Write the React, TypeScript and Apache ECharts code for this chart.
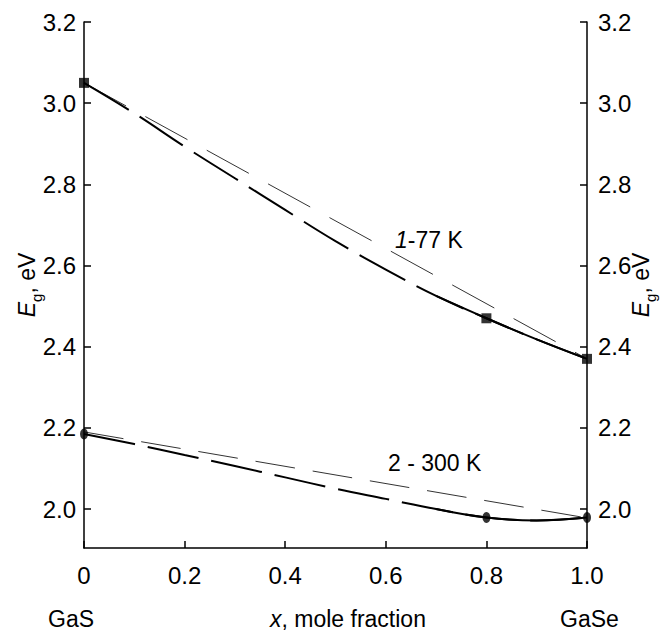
import React, { useEffect, useRef } from "react";
import * as echarts from "echarts";

const xs = [0, 0.1, 0.2, 0.3, 0.4, 0.5, 0.6, 0.7, 0.8, 0.9, 1.0];
const curve1 = [3.05, 2.975, 2.893, 2.815, 2.737, 2.66, 2.59, 2.525, 2.47, 2.418, 2.37];
const curve2 = [2.185, 2.16, 2.133, 2.106, 2.078, 2.05, 2.025, 2.0, 1.979, 1.972, 1.979];
const linear1 = [[0, 3.05], [1, 2.37]];
const linear2 = [[0, 2.19], [1, 1.978]];
const points1 = [[0, 3.05], [0.8, 2.47], [1, 2.37]];
const points2 = [[0, 2.185], [0.8, 1.979], [1, 1.979]];
const yTicks = [2.0, 2.2, 2.4, 2.6, 2.8, 3.0, 3.2];
const xTicks = [0, 0.2, 0.4, 0.6, 0.8, 1.0];

const FONT = "'Liberation Sans Narrow', 'Liberation Sans', Arial, sans-serif";

export default function App() {
  const ref = useRef<HTMLDivElement>(null);
  useEffect(() => {
    if (!ref.current) return;
    const chart = echarts.init(ref.current, null, { renderer: "svg" });
    const pairs = (vals: number[]) => xs.map((x, i) => [x, vals[i]]);
    const solidStart = 7;
    const yAxisBase = (pos: "left" | "right") => ({
      type: "value",
      position: pos,
      min: 1.904,
      max: 3.2,
      axisLine: { show: true, lineStyle: { color: "#000", width: 1.5 } },
      axisTick: { show: true, inside: true, length: 7, customValues: yTicks, lineStyle: { color: "#000", width: 1.5 } },
      axisLabel: {
        customValues: yTicks,
        formatter: (v: number) => v.toFixed(1),
        color: "#000",
        fontSize: 24,
        fontFamily: FONT,
        margin: pos === "left" ? 8 : 11,
      },
      splitLine: { show: false },
      name: "{e|E}{g|g}{n|, eV}",
      nameLocation: "middle",
      nameRotate: 90,
      nameMoveOverlap: false,
      nameGap: pos === "left" ? 46 : 37,
      nameTextStyle: {
        rich: {
          e: { fontSize: 23, fontStyle: "italic", fontFamily: FONT, color: "#000", lineHeight: 28, verticalAlign: "bottom" },
          g: { fontSize: 15, fontFamily: FONT, color: "#000", lineHeight: 28, verticalAlign: "bottom", padding: [0, 0, -6, 0] },
          n: { fontSize: 23, fontFamily: FONT, color: "#000", lineHeight: 28, verticalAlign: "bottom" },
        },
      },
    });
    const option: any = {
      animation: false,
      grid: { left: 84, right: 74, top: 22, bottom: 84, outerBoundsMode: "none", containLabel: false },
      xAxis: {
        type: "value",
        min: 0,
        max: 1,
        interval: 0.2,
        axisLine: { show: true, lineStyle: { color: "#000", width: 1.5 } },
        axisTick: { show: true, inside: true, length: 7, lineStyle: { color: "#000", width: 1.5 } },
        axisLabel: {
          formatter: (v: number) => (v === 0 ? "0" : v.toFixed(1)),
          color: "#000",
          fontSize: 24,
          fontFamily: FONT,
          margin: 15,
          customValues: xTicks,
        },
        splitLine: { show: false },
      },
      yAxis: [yAxisBase("left"), yAxisBase("right")],
      series: [
        {
          type: "line",
          data: linear1,
          symbol: "none",
          lineStyle: { color: "#333", width: 1, type: [48, 22] },
        },
        {
          type: "line",
          data: linear2,
          symbol: "none",
          lineStyle: { color: "#333", width: 1, type: [40, 18] },
        },
        {
          type: "line",
          data: pairs(curve1),
          smooth: 0.4,
          symbol: "none",
          lineStyle: { color: "#000", width: 2, type: [52, 13] },
        },
        {
          type: "line",
          data: pairs(curve1).slice(solidStart),
          smooth: 0.4,
          symbol: "none",
          lineStyle: { color: "#000", width: 2 },
        },
        {
          type: "line",
          data: pairs(curve2),
          smooth: 0.4,
          symbol: "none",
          lineStyle: { color: "#000", width: 2, type: [52, 13] },
        },
        {
          type: "line",
          data: pairs(curve2).slice(solidStart),
          smooth: 0.4,
          symbol: "none",
          lineStyle: { color: "#000", width: 2 },
        },
        {
          type: "scatter",
          data: points1,
          symbol: "rect",
          symbolSize: 10,
          itemStyle: { color: "#000" },
          clip: false,
          z: 5,
        },
        {
          type: "scatter",
          data: points2,
          symbol: "circle",
          symbolSize: [8, 11],
          itemStyle: { color: "#000" },
          clip: false,
          z: 5,
        },
      ],
      graphic: [
        {
          type: "text",
          left: 395,
          top: 228,
          style: {
            text: "{i|1}{n|-77 K}",
            rich: {
              i: { fontSize: 23, fontStyle: "italic", fontFamily: FONT, fill: "#000" },
              n: { fontSize: 23, fontFamily: FONT, fill: "#000" },
            },
          },
        },
        {
          type: "text",
          left: 388,
          top: 451,
          style: { text: "2 - 300 K", fontSize: 23, fontFamily: FONT, fill: "#000" },
        },
        {
          type: "text",
          left: 48,
          top: 607,
          style: { text: "GaS", fontSize: 23, fontFamily: FONT, fill: "#000" },
        },
        {
          type: "text",
          left: 560,
          top: 607,
          style: { text: "GaSe", fontSize: 23, fontFamily: FONT, fill: "#000" },
        },
        {
          type: "text",
          left: 270,
          top: 607,
          style: {
            text: "{i|x}{n|, mole fraction}",
            rich: {
              i: { fontSize: 23, fontStyle: "italic", fontFamily: FONT, fill: "#000" },
              n: { fontSize: 23, fontFamily: FONT, fill: "#000" },
            },
          },
        },
      ],
    };
    chart.setOption(option);
    return () => chart.dispose();
  }, []);
  return <div ref={ref} style={{ position: "absolute", left: 0, top: 0, width: 661, height: 632 }} />;
}
